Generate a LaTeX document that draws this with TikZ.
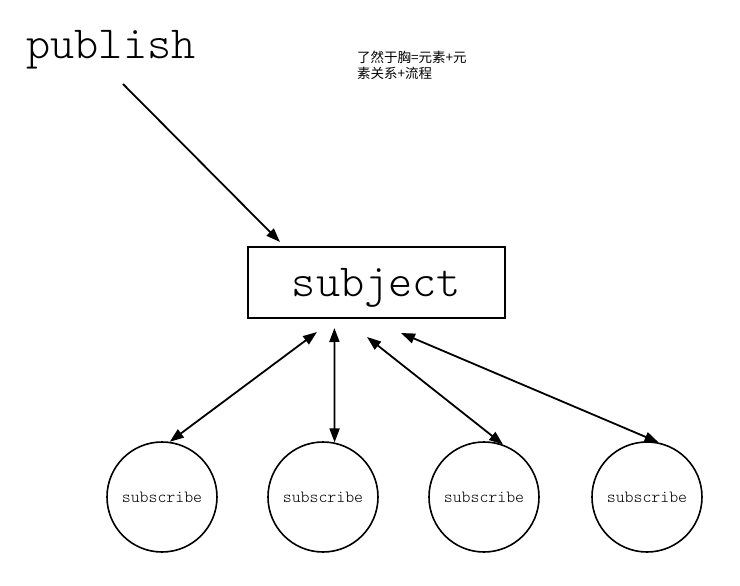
\documentclass[tikz,border=0pt]{standalone}
\usepackage{fontspec}
\newfontfamily\cjk{Noto Sans CJK SC}
\usetikzlibrary{arrows.meta}
\begin{document}
\begin{tikzpicture}[x=1pt,y=-1pt,
  bigtext/.style={font=\ttfamily\fontseries{l}\fontsize{46}{50}\selectfont, inner sep=0pt},
  subjbox/.style={draw, line width=1.8pt, minimum width=257pt, minimum height=71pt,
    inner sep=0pt, text height=28pt, text depth=0pt, font=\ttfamily\fontseries{l}\fontsize{46}{50}\selectfont},
  subcircle/.style={draw, circle, line width=1.6pt, minimum size=110pt, inner sep=0pt,
    font=\ttfamily\fontseries{l}\fontsize{17}{20}\selectfont},
  notetext/.style={anchor=north west, inner sep=0pt, align=left,
    font=\cjk\fontsize{13.5}{16}\selectfont},
  tip/.tip={Triangle[length=14pt,width=10pt]},
  arr/.style={line width=1.8pt, -tip},
  darr/.style={line width=1.8pt, tip-tip}]
\path[use as bounding box] (0,0) rectangle (740,586);

\node[bigtext, anchor=base] (pub) at (111,59) {publish};
\node[notetext] (note) at (357,51) {了然于胸=元素+元\\素关系+流程};
\node[subjbox] (subj) at (376.5,282.5) {subject};

\node[subcircle] (c1) at (162,497) {subscribe};
\node[subcircle] (c2) at (323,497) {subscribe};
\node[subcircle] (c3) at (484,497) {subscribe};
\node[subcircle] (c4) at (647,497) {subscribe};

\coordinate (p0) at (123,84);
\coordinate (p1) at (280,242);
\coordinate (t1) at (317,332);
\coordinate (t2) at (334.4,328);
\coordinate (t3) at (367,337);
\coordinate (t4) at (401,333);

\draw[arr] (p0) -- (p1);
\draw[darr] (t1) -- (c1.82);
\draw[darr] (t2) -- (c2.78);
\draw[darr] (t3) -- (c3.70);
\draw[darr] (t4) -- (c4.78);
\end{tikzpicture}
\end{document}
